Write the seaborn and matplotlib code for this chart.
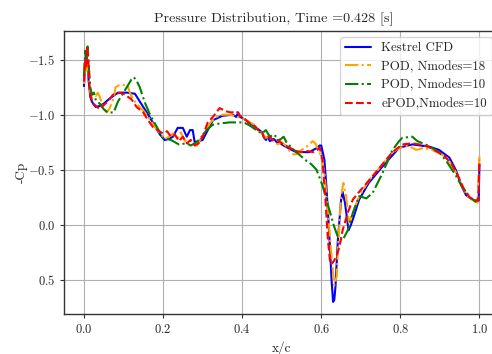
import numpy as np
import pandas as pd
import matplotlib
matplotlib.use("Agg")
import matplotlib.pyplot as plt
import seaborn as sns

# ---------------- data ----------------
kestrel_x = [0.0, 0.003, 0.006, 0.009, 0.012, 0.016, 0.02, 0.025, 0.03, 0.04, 0.05, 0.066, 0.086, 0.11, 0.129,
             0.141, 0.159, 0.174, 0.192, 0.204, 0.215, 0.225, 0.237, 0.25, 0.26, 0.268, 0.275, 0.28, 0.29, 0.30,
             0.313, 0.326, 0.35, 0.376, 0.385, 0.39, 0.394, 0.40, 0.41, 0.42, 0.43, 0.44, 0.45, 0.455, 0.46, 0.465,
             0.47, 0.48, 0.49, 0.495, 0.50, 0.51, 0.52, 0.537, 0.55, 0.57, 0.58, 0.59, 0.596, 0.60, 0.608, 0.613,
             0.617, 0.622, 0.626, 0.63, 0.633, 0.636, 0.642, 0.65, 0.654, 0.66, 0.669, 0.675, 0.68, 0.696, 0.72,
             0.755, 0.797, 0.83, 0.873, 0.898, 0.924, 0.94, 0.954, 0.966, 0.982, 0.994, 0.998, 1.0]
kestrel_cp = [-1.26, -1.45, -1.55, -1.45, -1.30, -1.16, -1.12, -1.09, -1.07, -1.08, -1.10, -1.15, -1.20, -1.20, -1.19,
              -1.12, -1.02, -0.93, -0.82, -0.77, -0.78, -0.80, -0.88, -0.88, -0.80, -0.86, -0.86, -0.75, -0.76, -0.77,
              -0.86, -0.95, -0.99, -1.00, -0.98, -1.02, -0.98, -0.97, -0.95, -0.92, -0.90, -0.87, -0.84, -0.80, -0.77, -0.80,
              -0.76, -0.78, -0.74, -0.75, -0.73, -0.71, -0.69, -0.66, -0.66, -0.66, -0.68, -0.70, -0.72, -0.72, -0.59, -0.35,
              -0.11, 0.20, 0.50, 0.70, 0.68, 0.56, 0.14, -0.22, -0.30, -0.20, 0.05, 0.00, -0.05, -0.23, -0.38,
              -0.53, -0.70, -0.73, -0.71, -0.68, -0.61, -0.50, -0.36, -0.27, -0.23, -0.21, -0.22, -0.55]

pod18_x = [0.0, 0.003, 0.006, 0.009, 0.012, 0.016, 0.02, 0.025, 0.03, 0.035, 0.04, 0.05, 0.058, 0.065, 0.075, 0.08,
           0.09, 0.11, 0.116, 0.124, 0.141, 0.154, 0.174, 0.192, 0.205, 0.215, 0.225, 0.235, 0.245, 0.255, 0.265,
           0.275, 0.285, 0.295, 0.305, 0.32, 0.335, 0.35, 0.37, 0.385, 0.40, 0.41, 0.42, 0.43, 0.44, 0.45, 0.46,
           0.47, 0.48, 0.49, 0.50, 0.51, 0.52, 0.53, 0.537, 0.55, 0.56, 0.57, 0.578, 0.585, 0.59, 0.60, 0.608,
           0.617, 0.626, 0.633, 0.639, 0.644, 0.65, 0.656, 0.663, 0.67, 0.68, 0.696, 0.72, 0.755, 0.78, 0.80,
           0.82, 0.84, 0.86, 0.88, 0.90, 0.92, 0.94, 0.955, 0.97, 0.985, 0.995, 1.0]
pod18_cp = [-1.28, -1.47, -1.40, -1.50, -1.35, -1.20, -1.15, -1.20, -1.17, -1.20, -1.16, -1.05, -1.02, -1.06, -1.15, -1.25,
            -1.27, -1.27, -1.20, -1.14, -1.07, -1.02, -0.92, -0.83, -0.78, -0.80, -0.83, -0.78, -0.84, -0.76, -0.78,
            -0.74, -0.72, -0.78, -0.84, -0.93, -0.98, -1.00, -1.00, -0.98, -0.97, -0.95, -0.93, -0.91, -0.87, -0.83, -0.79,
            -0.80, -0.76, -0.73, -0.75, -0.72, -0.67, -0.64, -0.64, -0.68, -0.70, -0.73, -0.76, -0.74, -0.70, -0.62, -0.47,
            -0.11, 0.29, 0.55, 0.47, 0.11, -0.26, -0.38, -0.26, -0.02, -0.11, -0.26, -0.40, -0.55, -0.66, -0.70,
            -0.72, -0.68, -0.70, -0.68, -0.65, -0.60, -0.48, -0.36, -0.26, -0.22, -0.20, -0.62]

pod10_x = [0.0, 0.003, 0.006, 0.009, 0.012, 0.016, 0.02, 0.025, 0.03, 0.04, 0.05, 0.06, 0.075, 0.086, 0.10, 0.11,
           0.12, 0.126, 0.133, 0.141, 0.154, 0.167, 0.184, 0.20, 0.22, 0.24, 0.26, 0.27, 0.285, 0.30, 0.31,
           0.326, 0.343, 0.368, 0.39, 0.40, 0.41, 0.42, 0.436, 0.45, 0.46, 0.47, 0.48, 0.495, 0.505, 0.512, 0.52,
           0.537, 0.55, 0.563, 0.575, 0.588, 0.603, 0.62, 0.633, 0.642, 0.654, 0.667, 0.68, 0.696, 0.714, 0.73,
           0.755, 0.78, 0.797, 0.805, 0.83, 0.843, 0.87, 0.898, 0.918, 0.94, 0.957, 0.974, 0.99, 1.0]
pod10_cp = [-1.35, -1.58, -1.50, -1.62, -1.45, -1.25, -1.18, -1.20, -1.13, -1.10, -1.05, -1.02, -1.02, -1.12, -1.20, -1.26,
            -1.32, -1.34, -1.31, -1.25, -1.11, -1.00, -0.89, -0.79, -0.77, -0.73, -0.74, -0.72, -0.75, -0.81, -0.86,
            -0.91, -0.92, -0.93, -0.93, -0.93, -0.92, -0.90, -0.86, -0.83, -0.86, -0.80, -0.82, -0.77, -0.80, -0.75, -0.72,
            -0.66, -0.62, -0.58, -0.55, -0.50, -0.36, -0.14, 0.02, 0.11, 0.14, 0.05, -0.11, -0.26, -0.24, -0.29,
            -0.47, -0.68, -0.76, -0.79, -0.80, -0.76, -0.72, -0.66, -0.57, -0.45, -0.34, -0.26, -0.21, -0.25]

epod_x = [0.0, 0.003, 0.005, 0.008, 0.011, 0.014, 0.018, 0.024, 0.03, 0.04, 0.048, 0.06, 0.073, 0.091, 0.10, 0.108,
          0.12, 0.133, 0.15, 0.162, 0.174, 0.19, 0.20, 0.21, 0.22, 0.23, 0.24, 0.25, 0.26, 0.27, 0.28, 0.29, 0.30,
          0.313, 0.326, 0.343, 0.36, 0.373, 0.386, 0.395, 0.40, 0.41, 0.42, 0.43, 0.44, 0.45, 0.455, 0.46, 0.47,
          0.48, 0.49, 0.50, 0.51, 0.52, 0.537, 0.55, 0.565, 0.58, 0.59, 0.596, 0.603, 0.61, 0.617, 0.623, 0.63,
          0.638, 0.646, 0.654, 0.667, 0.68, 0.696, 0.72, 0.755, 0.78, 0.805, 0.83, 0.848, 0.87, 0.89, 0.91, 0.93,
          0.945, 0.96, 0.975, 0.99, 0.997, 1.0]
epod_cp = [-1.30, -1.50, -1.42, -1.62, -1.50, -1.25, -1.15, -1.10, -1.08, -1.05, -1.08, -1.12, -1.18, -1.20, -1.19, -1.17,
           -1.14, -1.07, -1.02, -0.95, -0.89, -0.85, -0.83, -0.85, -0.80, -0.82, -0.76, -0.80, -0.74, -0.77, -0.72, -0.74, -0.80,
           -0.93, -0.98, -1.06, -1.03, -1.02, -1.03, -0.99, -0.98, -0.95, -0.92, -0.90, -0.86, -0.85, -0.79, -0.78, -0.80,
           -0.76, -0.77, -0.74, -0.72, -0.70, -0.67, -0.66, -0.67, -0.66, -0.68, -0.70, -0.59, -0.26, 0.14, 0.36, 0.34,
           0.29, 0.20, 0.05, -0.11, -0.23, -0.30, -0.40, -0.55, -0.66, -0.73, -0.74, -0.73, -0.71, -0.67, -0.63, -0.55,
           -0.45, -0.33, -0.25, -0.22, -0.22, -0.59]

series_labels = ["Kestrel CFD", "POD, Nmodes=18", "POD, Nmodes=10", "ePOD,Nmodes=10"]
title_text = "Pressure Distribution, Time =0.428 [s]"

# ---------------- style ----------------
sns.set_style("whitegrid")
plt.rcParams.update({
    "font.family": "serif",
    "font.serif": ["cmr10"],
    "mathtext.fontset": "cm",
    "axes.formatter.use_mathtext": True,
    "axes.unicode_minus": True,
})

frames = []
for lab, xs, ys in zip(series_labels,
                       [kestrel_x, pod18_x, pod10_x, epod_x],
                       [kestrel_cp, pod18_cp, pod10_cp, epod_cp]):
    frames.append(pd.DataFrame({"x/c": xs, "Cp": ys, "series": lab}))
df = pd.concat(frames, ignore_index=True)

fig = plt.figure(figsize=(4.92, 3.54), dpi=100)
ax = fig.add_axes([64 / 492, 40 / 354, (500 - 64) / 492, (314 - 31) / 354])

styles = {
    "Kestrel CFD": dict(color="blue", ls="-"),
    "POD, Nmodes=18": dict(color="orange", ls="-."),
    "POD, Nmodes=10": dict(color="green", ls="-."),
    "ePOD,Nmodes=10": dict(color="red", ls="--"),
}
for lab in series_labels:
    sub = df[df["series"] == lab]
    sns.lineplot(data=sub, x="x/c", y="Cp", ax=ax, label=lab, sort=False,
                 estimator=None, color=styles[lab]["color"], linestyle=styles[lab]["ls"], lw=1.5)

ax.set_xlim(-0.0505, 1.052)
ax.set_ylim(0.81, -1.76)
ax.set_xticks([0.0, 0.2, 0.4, 0.6, 0.8, 1.0])
ax.set_yticks([-1.5, -1.0, -0.5, 0.0, 0.5])
ax.grid(True, color="#b0b0b0", lw=0.8)
for s in ax.spines.values():
    s.set_color("#333333")
    s.set_linewidth(1.0)
ax.tick_params(axis="both", labelsize=9, length=3, color="#333333", left=True, bottom=True)

ax.set_xlabel("x/c", fontsize=9.5)
ax.set_ylabel("-Cp", fontsize=9.5, labelpad=0)
ax.set_title(title_text, fontsize=10.2, x=0.48)

leg = ax.legend(loc="upper left", bbox_to_anchor=((340 - 64) / (500 - 64), 1 - 6 / 283),
                fontsize=9.3, frameon=True, framealpha=0.8, borderaxespad=0.0)

fig.savefig("out.png", dpi=100)
